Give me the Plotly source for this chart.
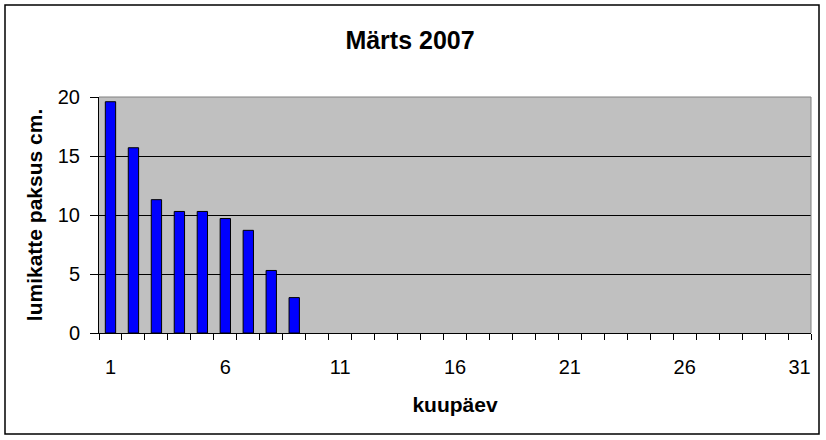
import plotly.graph_objects as go

# lumikatte paksus (cm) märtsi päevadel
days = [1, 2, 3, 4, 5, 6, 7, 8, 9]
snow_cm = [19.6, 15.7, 11.3, 10.3, 10.3, 9.7, 8.7, 5.3, 3.0]

x_tickvals = [1, 6, 11, 16, 21, 26, 31]
x_ticktext = ['1', '6', '11', '16', '21', '26', '31']
y_tickvals = [0, 5, 10, 15, 20]

W, H = 826, 440
ml, mr, mt, mb = 99, 15, 97, 107
pw, ph = W - ml - mr, H - mt - mb

fig = go.Figure()
fig.add_trace(go.Bar(x=days, y=snow_cm, width=0.45,
                     marker=dict(color='#0000FF',
                                 line=dict(color='black', width=1))))

font = 'Liberation Sans, Arial, sans-serif'
fig.update_layout(
    width=W, height=H,
    margin=dict(l=ml, r=mr, t=mt, b=mb),
    paper_bgcolor='white',
    plot_bgcolor='#C0C0C0',
    showlegend=False,
    font=dict(family=font, size=20, color='black'),
    title=dict(text='<b>Märts 2007</b>', x=410 / W, xref='container',
               xanchor='center', y=1 - 40 / H, yanchor='middle',
               font=dict(size=25)),
)
fig.update_xaxes(range=[0.5, 31.5], tickvals=x_tickvals, ticktext=x_ticktext,
                 ticks='', ticklabelstandoff=16, showgrid=False,
                 showline=True, linecolor='black', linewidth=1,
                 minor=dict(tick0=0.5, dtick=1, ticks='outside', ticklen=6,
                            tickcolor='black', showgrid=False),
                 title=dict(text='<b>kuupäev</b>', font=dict(size=21),
                            standoff=20),
                 zeroline=False)
fig.update_yaxes(range=[0, 20], tickvals=y_tickvals, ticks='outside',
                 ticklen=8, tickcolor='black', ticklabelstandoff=6,
                 showgrid=True, gridcolor='black', gridwidth=1,
                 showline=True, linecolor='black', linewidth=1,
                 zeroline=False,
                 title=dict(text='<b>lumikatte paksus cm.</b>',
                            font=dict(size=21), standoff=9))

# plot area top/right edge in grey, outer chart frame
fig.add_shape(type='line', xref='paper', yref='paper', x0=0, x1=1, y0=1, y1=1,
              line=dict(color='#808080', width=1), layer='above')
fig.add_shape(type='line', xref='paper', yref='paper', x0=1, x1=1, y0=0, y1=1,
              line=dict(color='#808080', width=1), layer='above')
fig.add_shape(type='rect', xref='paper', yref='paper',
              x0=(5 - ml) / pw, x1=(819 - ml) / pw,
              y0=(H - mb - 434) / ph, y1=(H - mb - 5) / ph,
              line=dict(color='black', width=1.5))

fig.write_html('out.html', config={'displayModeBar': False},
               post_script="document.body.style.margin='0px';")
